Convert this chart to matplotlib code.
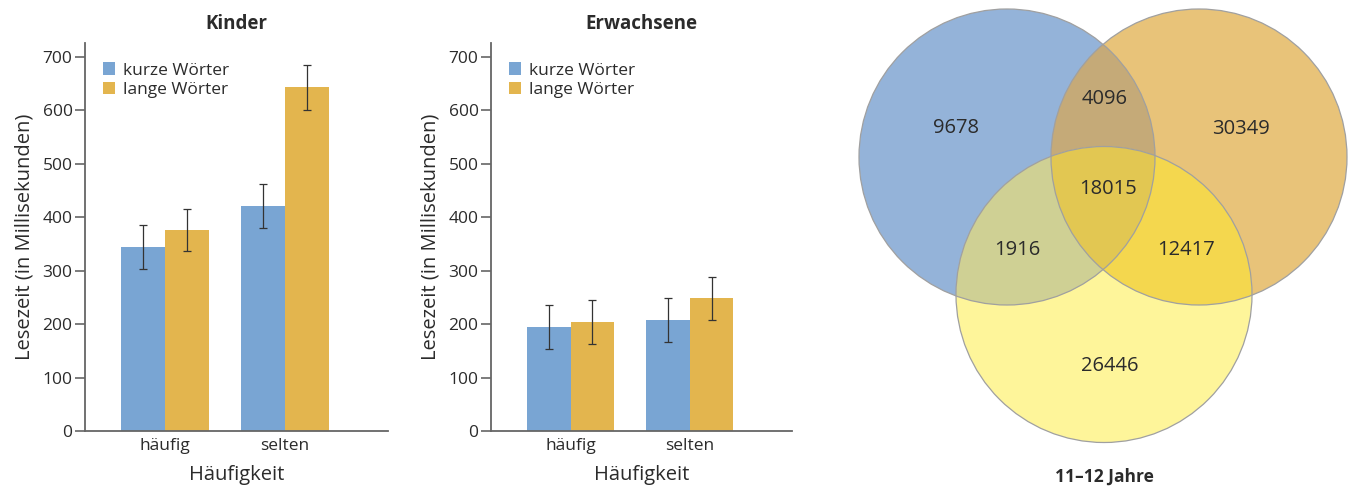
import matplotlib
matplotlib.use("Agg")
import matplotlib.pyplot as plt
import numpy as np
from matplotlib.patches import Circle, Polygon

plt.rcParams['font.family'] = ['Open Sans', 'DejaVu Sans']
TEXT = '#2b2b2b'
plt.rcParams['text.color'] = TEXT

# bar chart data
categories = ['häufig', 'selten']
series = ['kurze Wörter', 'lange Wörter']
kinder_kurz = [344, 421]
kinder_lang = [376, 643]
kinder_kurz_err = [41, 41]
kinder_lang_err = [40, 42]
erw_kurz = [195, 207]
erw_lang = [204, 248]
erw_kurz_err = [41, 41]
erw_lang_err = [41, 41]
yticks = [0, 100, 200, 300, 400, 500, 600, 700]

# venn data (region labels)
venn_counts = {'A': 9678, 'B': 30349, 'C': 26446, 'AB': 4096,
               'AC': 1916, 'BC': 12417, 'ABC': 18015}
venn_label = '11–12 Jahre'

BLUE = '#79a5d3'
ORANGE = '#e3b54e'

W, H = 1357, 491
fig = plt.figure(figsize=(W / 100, H / 100), dpi=100, facecolor='white')


def bar_panel(rect, title, kurz, lang, kurz_err, lang_err):
    ax = fig.add_axes(rect)
    x = np.arange(len(categories))
    w = 0.367
    ax.bar(x - w / 2, kurz, w, color=BLUE, label=series[0], zorder=2)
    ax.bar(x + w / 2, lang, w, color=ORANGE, label=series[1], zorder=2)
    ekw = dict(fmt='none', ecolor='#333333', elinewidth=0.9, capsize=3, capthick=0.9, zorder=3)
    ax.errorbar(x - w / 2, kurz, yerr=kurz_err, **ekw)
    ax.errorbar(x + w / 2, lang, yerr=lang_err, **ekw)
    ax.set_xlim(-0.667, 1.858)
    ax.set_ylim(0, 726)
    ax.set_yticks(yticks)
    ax.set_xticks(x)
    ax.set_xticklabels(categories, fontsize=12.5, color=TEXT)
    ax.tick_params(axis='x', length=0, pad=5)
    ax.tick_params(axis='y', length=7, width=1.2, color='#666666', labelsize=12.5,
                   labelcolor=TEXT, pad=2)
    for s in ['top', 'right']:
        ax.spines[s].set_visible(False)
    for s in ['left', 'bottom']:
        ax.spines[s].set_color('#666666')
        ax.spines[s].set_linewidth(1.3)
    ax.spines['left'].set_bounds(0, 726)
    ax.set_title(title, fontsize=13.5, fontweight='bold', pad=10, color=TEXT)
    ax.set_ylabel('Lesezeit (in Millisekunden)', fontsize=14.5, color=TEXT, labelpad=6)
    ax.set_xlabel('Häufigkeit', fontsize=14.5, color=TEXT, labelpad=8)
    ax.legend(loc='upper left', bbox_to_anchor=(0.059, 0.95), frameon=False, fontsize=12.5,
              handlelength=0.7, handleheight=0.7, handletextpad=0.45, labelspacing=0.2,
              borderaxespad=0, borderpad=0)
    return ax


bar_panel([85 / W, 60 / H, 303 / W, 388 / H], 'Kinder',
          kinder_kurz, kinder_lang, kinder_kurz_err, kinder_lang_err)
bar_panel([491 / W, 60 / H, 301 / W, 388 / H], 'Erwachsene',
          erw_kurz, erw_lang, erw_kurz_err, erw_lang_err)

# venn diagram in pixel coordinates
vx = fig.add_axes([0, 0, 1, 1], zorder=-1)
vx.set_xlim(0, W)
vx.set_ylim(H, 0)
vx.axis('off')

r = 148
cA, cB, cC = (1007, 157), (1199, 157), (1104, 294.5)


def inside(p, c):
    return (p[0] - c[0]) ** 2 + (p[1] - c[1]) ** 2 <= r ** 2 + 1e-6


def intersection(centers):
    t = np.linspace(0, 2 * np.pi, 2000, endpoint=False)
    pts = []
    for c in centers:
        for a in t:
            p = (c[0] + r * np.cos(a), c[1] + r * np.sin(a))
            if all(inside(p, o) for o in centers if o is not c):
                pts.append(p)
    pts = np.array(pts)
    m = pts.mean(axis=0)
    ang = np.arctan2(pts[:, 1] - m[1], pts[:, 0] - m[0])
    return pts[np.argsort(ang)]


for c, col in [(cA, '#94b3d9'), (cB, '#e8c379'), (cC, '#fef59a')]:
    vx.add_patch(Circle(c, r, facecolor=col, edgecolor='none'))
for cs, col in [((cA, cB), '#c5aa78'), ((cA, cC), '#cfd094'),
                ((cB, cC), '#f4d74e'), ((cA, cB, cC), '#e2c752')]:
    vx.add_patch(Polygon(intersection(cs), closed=True, facecolor=col, edgecolor='none'))
for c in (cA, cB, cC):
    vx.add_patch(Circle(c, r, facecolor='none', edgecolor='#a0a0a0', linewidth=0.9))

label_pos = {'A': (956, 128), 'B': (1241, 129), 'C': (1110, 366), 'AB': (1105, 99),
             'AC': (1017, 250), 'BC': (1186, 250), 'ABC': (1108, 189)}
for k, v in venn_counts.items():
    vx.text(*label_pos[k], str(v), ha='center', va='center', fontsize=14.5, color=TEXT)
vx.text(1104, 477, venn_label, ha='center', va='center', fontsize=12.5,
        fontweight='bold', color=TEXT)

fig.savefig('out.png', dpi=100, facecolor='white')
